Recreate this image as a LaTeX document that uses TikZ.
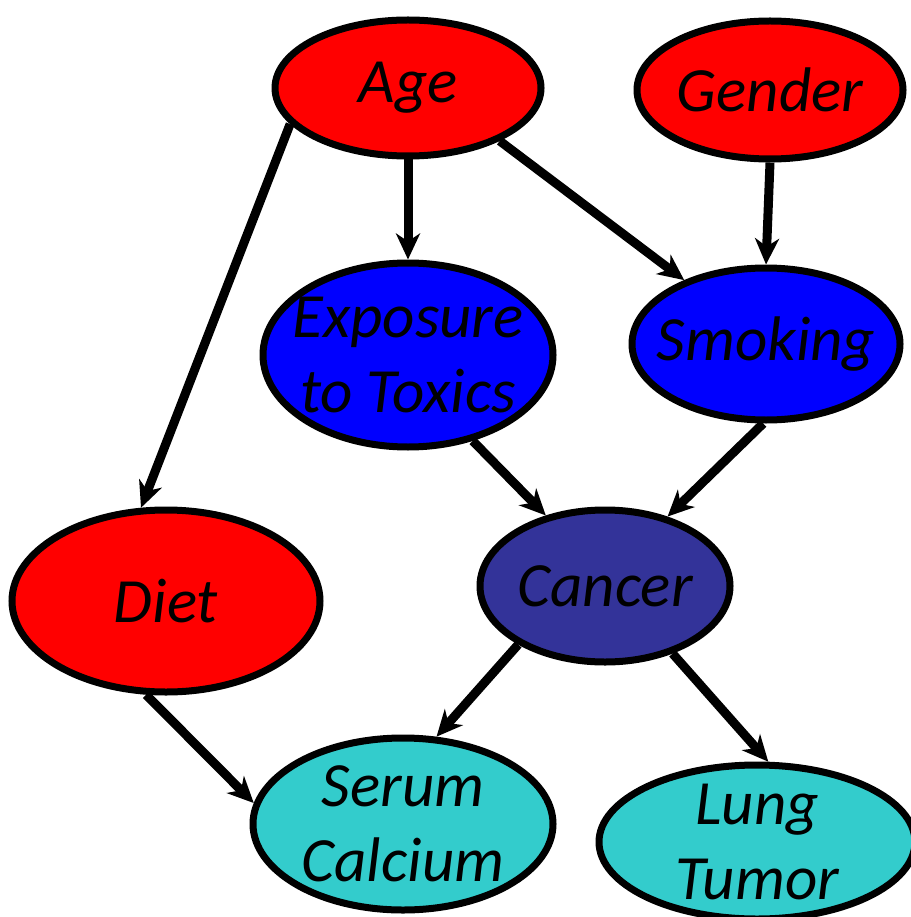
\documentclass[tikz,border=0pt]{standalone}
\usepackage{fontspec}
\setmainfont{Carlito}
\usetikzlibrary{shapes.geometric,arrows.meta}
\definecolor{nred}{HTML}{FF0000}
\definecolor{nblue}{HTML}{0000FF}
\definecolor{ndark}{HTML}{333399}
\definecolor{ncyan}{HTML}{33CCCC}
\tikzset{
  bn/.style={ellipse, draw=black, line width=7pt, inner sep=0pt},
  txt/.style={align=center, inner sep=0pt, font=\fontsize{63}{75}\selectfont\itshape},
  conn/.style={line width=9pt, -{Stealth[length=26pt, width=24pt, inset=8pt]}}
}
\begin{document}
\begin{tikzpicture}[x=1pt, y=-1pt]
\useasboundingbox (0,0) rectangle (910,917);
\node[bn, fill=nred, minimum width=266pt, minimum height=136pt,
  label={[txt]center:Age}] (age) at (408,88) {};
\node[bn, fill=nred, minimum width=266pt, minimum height=138pt,
  label={[txt]center:Gender}] (gender) at (770,90) {};
\node[bn, fill=nblue, minimum width=290pt, minimum height=184pt,
  label={[txt]center:Exposure\\to Toxics}] (exp) at (408,355) {};
\node[bn, fill=nblue, minimum width=268pt, minimum height=152pt,
  label={[txt]center:Smoking}] (smk) at (766,344) {};
\node[bn, fill=nred, minimum width=308pt, minimum height=182pt,
  label={[txt]center:Diet}] (diet) at (166,601) {};
\node[bn, fill=ndark, minimum width=250pt, minimum height=152pt,
  label={[txt]center:Cancer}] (cancer) at (605,586) {};
\node[bn, fill=ncyan, minimum width=300pt, minimum height=172pt,
  label={[txt]center:Serum\\Calcium}] (serum) at (403,824) {};
\node[bn, fill=ncyan, minimum width=316pt, minimum height=154pt,
  label={[txt]center:Lung\\Tumor}] (lung) at (757,842) {};
\draw[conn] (age.197) -- (diet.105);
\draw[conn] (age.south) -- (exp.north);
\draw[conn] (age.-30) -- (smk.142);
\draw[conn] (gender.south) -- (smk.north);
\draw[conn] (exp.-53) -- (cancer.130);
\draw[conn] (smk.-92) -- (cancer.48);
\draw[conn] (cancer.214) -- (serum.69);
\draw[conn] (cancer.-45) -- (lung.82);
\draw[conn] (diet.-102) -- (serum.172);
\end{tikzpicture}
\end{document}
